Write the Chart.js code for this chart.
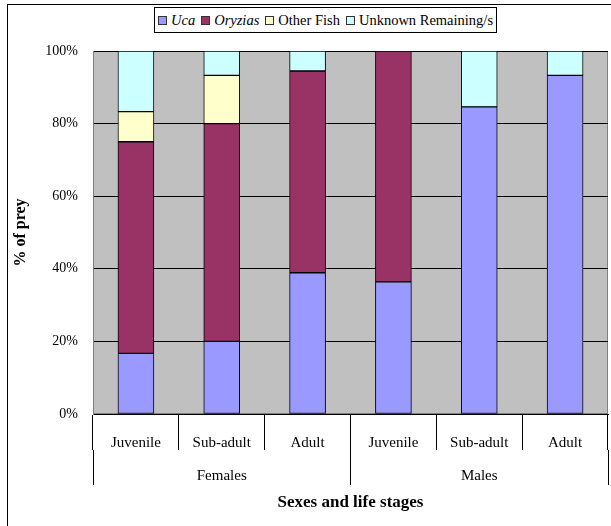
<!DOCTYPE html>
<html>
<head>
<meta charset="utf-8">
<script src="https://cdn.jsdelivr.net/npm/chart.js@4.4.1/dist/chart.umd.min.js"></script>
<style>
  html, body { margin: 0; padding: 0; background: #fff; overflow: hidden; }
  #wrap { position: relative; width: 611px; height: 526px; overflow: hidden; }
  #frame { position: absolute; left: 7px; top: 4px; width: 700px; height: 700px; border: 1px solid #000; }
  #chart { position: absolute; left: 0; top: 0; }
  #legend {
    position: absolute; left: 154px; top: 7px; height: 24px; width: 341px;
    border: 1px solid #000; background: #fff;
    display: flex; align-items: center; justify-content: center;
    font-family: 'Liberation Serif'; font-size: 14.5px; color: #000; white-space: nowrap;
  }
  #legend .item { display: flex; align-items: center; margin: 0 3px; }
  #legend .box { width: 7px; height: 7px; border: 1px solid #333; margin-right: 4px; }
</style>
</head>
<body>
<div id="wrap">
  <div id="frame"></div>
  <canvas id="chart" width="611" height="526"></canvas>
  <div id="legend"></div>
</div>
<script>
const stages = ['Juvenile', 'Sub-adult', 'Adult', 'Juvenile', 'Sub-adult', 'Adult'];
const sexes = ['Females', 'Males'];
const seriesNames = ['Uca', 'Oryzias', 'Other Fish', 'Unknown Remaining/s'];
const italicNames = [true, true, false, false];
const colors = ['#9999ff', '#993366', '#ffffcc', '#ccffff'];

// % of prey per bar
const uca = [16.7, 20.0, 38.9, 36.4, 84.6, 93.3];
const oryzias = [58.3, 60.0, 55.6, 63.6, 0, 0];
const otherFish = [8.3, 13.3, 0, 0, 0, 0];
const unknown = [16.7, 6.7, 5.5, 0, 15.4, 6.7];
const yTicks = [0, 20, 40, 60, 80, 100];

const series = [uca, oryzias, otherFish, unknown];

Chart.defaults.font.family = "'Liberation Serif'";
Chart.defaults.font.size = 14;
Chart.defaults.color = '#000';

// legend (html so the names can be italic)
const legend = document.getElementById('legend');
seriesNames.forEach((name, i) => {
  const item = document.createElement('span');
  item.className = 'item';
  const box = document.createElement('span');
  box.className = 'box';
  box.style.background = colors[i];
  const txt = document.createElement('span');
  txt.textContent = name;
  if (italicNames[i]) txt.style.fontStyle = 'italic';
  item.appendChild(box);
  item.appendChild(txt);
  legend.appendChild(item);
});

const plotBg = {
  id: 'plotBg',
  beforeDraw(chart) {
    const { ctx, chartArea: a } = chart;
    ctx.save();
    ctx.fillStyle = '#c0c0c0';
    ctx.fillRect(a.left, a.top, a.right - a.left, a.bottom - a.top);
    ctx.strokeStyle = '#808080';
    ctx.lineWidth = 1;
    ctx.strokeRect(a.left + 0.5, a.top + 0.5, a.right - a.left - 1, a.bottom - a.top - 1);
    ctx.restore();
  },
};

new Chart(document.getElementById('chart'), {
  type: 'bar',
  data: {
    labels: stages,
    datasets: series.map((d, i) => ({
      label: seriesNames[i],
      data: d,
      backgroundColor: colors[i],
      borderColor: '#000',
      borderWidth: 1,
      borderSkipped: false,
      barThickness: 36,
    })),
  },
  options: {
    responsive: false,
    animation: false,
    devicePixelRatio: 1,
    layout: { padding: { left: 0, top: 51, right: 3, bottom: 0 } },
    plugins: {
      legend: { display: false },
      tooltip: { enabled: false },
    },
    scales: {
      x: {
        stacked: true,
        offset: true,
        grid: { offset: true, drawOnChartArea: false, tickLength: 36, color: '#000' },
        border: { color: '#000' },
        ticks: { padding: -16, maxRotation: 0, font: { size: 15 } },
        afterFit(s) { s.height = 36; },
      },
      x2: {
        type: 'category',
        position: 'bottom',
        labels: sexes,
        offset: true,
        grid: { offset: true, drawOnChartArea: false, tickLength: 35, color: '#000' },
        border: { display: false },
        ticks: { padding: -18, maxRotation: 0, font: { size: 15 } },
        title: {
          display: true,
          text: 'Sexes and life stages',
          font: { size: 17, weight: 'bold' },
          padding: { top: 0, bottom: 13 },
        },
        afterFit(s) { s.height = 76; },
      },
      y: {
        stacked: true,
        min: 0,
        max: 100,
        afterBuildTicks(s) { s.ticks = yTicks.map(v => ({ value: v })); },
        ticks: { padding: 15, callback: v => v + '%' },
        grid: { color: '#000', drawTicks: false },
        border: { color: '#808080' },
        title: {
          display: true,
          text: '% of prey',
          font: { size: 16, weight: 'bold' },
          padding: { top: 11, bottom: 0 },
        },
        afterFit(s) { s.width = 93; },
      },
    },
  },
  plugins: [plotBg],
});
</script>
</body>
</html>
